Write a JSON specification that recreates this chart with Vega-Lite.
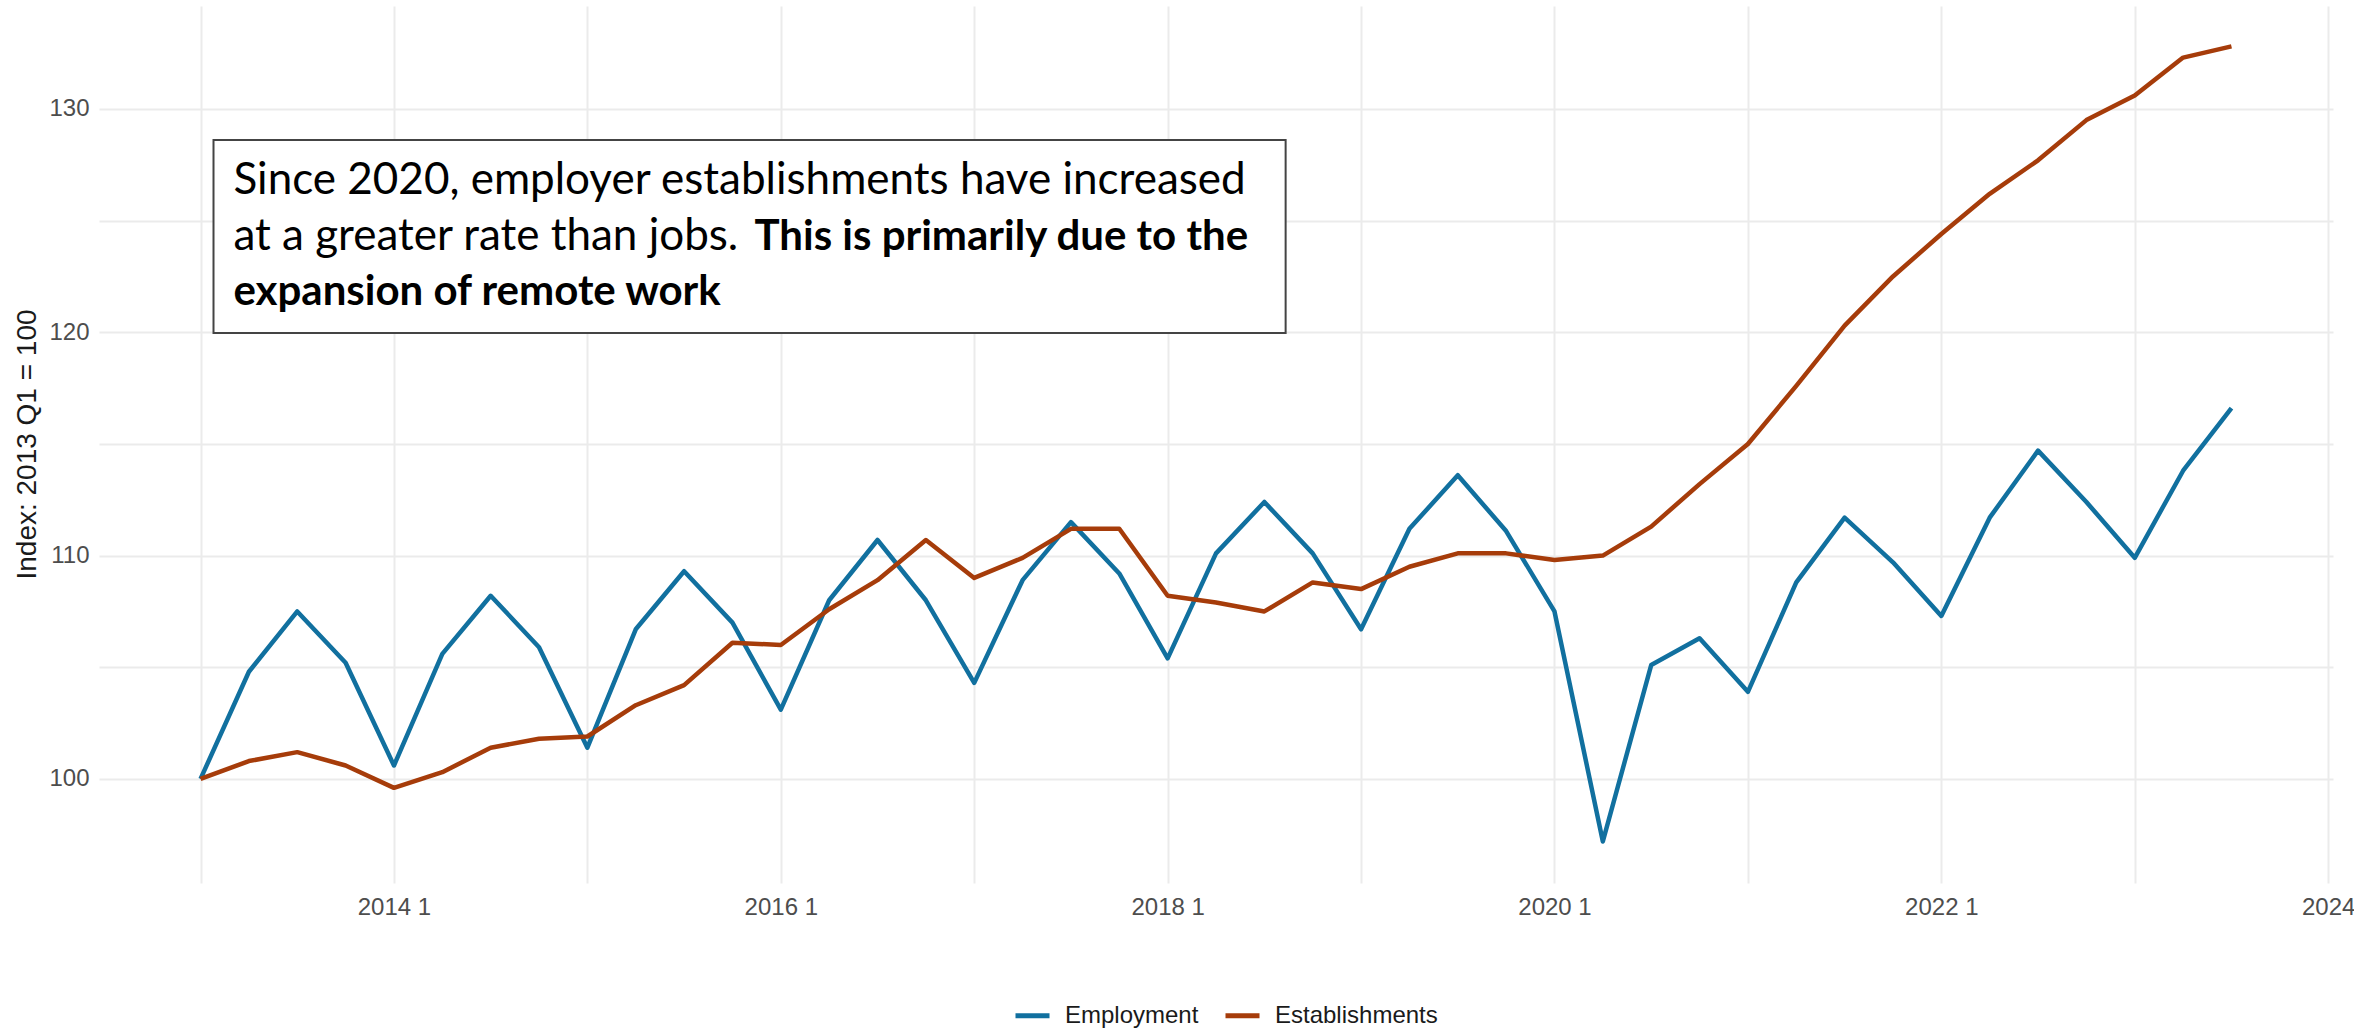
{
  "$schema": "https://vega.github.io/schema/vega-lite/v6.json",
  "width": 2234,
  "height": 877,
  "autosize": {"type": "none"},
  "padding": {"left": 99, "top": 6, "right": 21, "bottom": 145},
  "background": "white",
  "config": {
    "view": {"stroke": null},
    "axis": {
      "domain": false,
      "ticks": false,
      "grid": true,
      "gridColor": "#ebebeb",
      "gridWidth": 2,
      "labelFont": "Liberation Sans",
      "labelFontSize": 24,
      "labelColor": "#4d4d4d",
      "labelOverlap": false,
      "labelFlush": false,
      "titleFont": "Liberation Sans",
      "titleFontWeight": "normal"
    }
  },
  "data": {
    "values": [
      {"t": 2013.00, "series": "Employment", "value": 100.0},
      {"t": 2013.25, "series": "Employment", "value": 104.8},
      {"t": 2013.50, "series": "Employment", "value": 107.5},
      {"t": 2013.75, "series": "Employment", "value": 105.2},
      {"t": 2014.00, "series": "Employment", "value": 100.6},
      {"t": 2014.25, "series": "Employment", "value": 105.6},
      {"t": 2014.50, "series": "Employment", "value": 108.2},
      {"t": 2014.75, "series": "Employment", "value": 105.9},
      {"t": 2015.00, "series": "Employment", "value": 101.4},
      {"t": 2015.25, "series": "Employment", "value": 106.7},
      {"t": 2015.50, "series": "Employment", "value": 109.3},
      {"t": 2015.75, "series": "Employment", "value": 107.0},
      {"t": 2016.00, "series": "Employment", "value": 103.1},
      {"t": 2016.25, "series": "Employment", "value": 108.0},
      {"t": 2016.50, "series": "Employment", "value": 110.7},
      {"t": 2016.75, "series": "Employment", "value": 108.0},
      {"t": 2017.00, "series": "Employment", "value": 104.3},
      {"t": 2017.25, "series": "Employment", "value": 108.9},
      {"t": 2017.50, "series": "Employment", "value": 111.5},
      {"t": 2017.75, "series": "Employment", "value": 109.2},
      {"t": 2018.00, "series": "Employment", "value": 105.4},
      {"t": 2018.25, "series": "Employment", "value": 110.1},
      {"t": 2018.50, "series": "Employment", "value": 112.4},
      {"t": 2018.75, "series": "Employment", "value": 110.1},
      {"t": 2019.00, "series": "Employment", "value": 106.7},
      {"t": 2019.25, "series": "Employment", "value": 111.2},
      {"t": 2019.50, "series": "Employment", "value": 113.6},
      {"t": 2019.75, "series": "Employment", "value": 111.1},
      {"t": 2020.00, "series": "Employment", "value": 107.5},
      {"t": 2020.25, "series": "Employment", "value": 97.2},
      {"t": 2020.50, "series": "Employment", "value": 105.1},
      {"t": 2020.75, "series": "Employment", "value": 106.3},
      {"t": 2021.00, "series": "Employment", "value": 103.9},
      {"t": 2021.25, "series": "Employment", "value": 108.8},
      {"t": 2021.50, "series": "Employment", "value": 111.7},
      {"t": 2021.75, "series": "Employment", "value": 109.7},
      {"t": 2022.00, "series": "Employment", "value": 107.3},
      {"t": 2022.25, "series": "Employment", "value": 111.7},
      {"t": 2022.50, "series": "Employment", "value": 114.7},
      {"t": 2022.75, "series": "Employment", "value": 112.4},
      {"t": 2023.00, "series": "Employment", "value": 109.9},
      {"t": 2023.25, "series": "Employment", "value": 113.8},
      {"t": 2023.50, "series": "Employment", "value": 116.6},
      {"t": 2013.00, "series": "Establishments", "value": 100.0},
      {"t": 2013.25, "series": "Establishments", "value": 100.8},
      {"t": 2013.50, "series": "Establishments", "value": 101.2},
      {"t": 2013.75, "series": "Establishments", "value": 100.6},
      {"t": 2014.00, "series": "Establishments", "value": 99.6},
      {"t": 2014.25, "series": "Establishments", "value": 100.3},
      {"t": 2014.50, "series": "Establishments", "value": 101.4},
      {"t": 2014.75, "series": "Establishments", "value": 101.8},
      {"t": 2015.00, "series": "Establishments", "value": 101.9},
      {"t": 2015.25, "series": "Establishments", "value": 103.3},
      {"t": 2015.50, "series": "Establishments", "value": 104.2},
      {"t": 2015.75, "series": "Establishments", "value": 106.1},
      {"t": 2016.00, "series": "Establishments", "value": 106.0},
      {"t": 2016.25, "series": "Establishments", "value": 107.6},
      {"t": 2016.50, "series": "Establishments", "value": 108.9},
      {"t": 2016.75, "series": "Establishments", "value": 110.7},
      {"t": 2017.00, "series": "Establishments", "value": 109.0},
      {"t": 2017.25, "series": "Establishments", "value": 109.9},
      {"t": 2017.50, "series": "Establishments", "value": 111.2},
      {"t": 2017.75, "series": "Establishments", "value": 111.2},
      {"t": 2018.00, "series": "Establishments", "value": 108.2},
      {"t": 2018.25, "series": "Establishments", "value": 107.9},
      {"t": 2018.50, "series": "Establishments", "value": 107.5},
      {"t": 2018.75, "series": "Establishments", "value": 108.8},
      {"t": 2019.00, "series": "Establishments", "value": 108.5},
      {"t": 2019.25, "series": "Establishments", "value": 109.5},
      {"t": 2019.50, "series": "Establishments", "value": 110.1},
      {"t": 2019.75, "series": "Establishments", "value": 110.1},
      {"t": 2020.00, "series": "Establishments", "value": 109.8},
      {"t": 2020.25, "series": "Establishments", "value": 110.0},
      {"t": 2020.50, "series": "Establishments", "value": 111.3},
      {"t": 2020.75, "series": "Establishments", "value": 113.2},
      {"t": 2021.00, "series": "Establishments", "value": 115.0},
      {"t": 2021.25, "series": "Establishments", "value": 117.6},
      {"t": 2021.50, "series": "Establishments", "value": 120.3},
      {"t": 2021.75, "series": "Establishments", "value": 122.5},
      {"t": 2022.00, "series": "Establishments", "value": 124.4},
      {"t": 2022.25, "series": "Establishments", "value": 126.2},
      {"t": 2022.50, "series": "Establishments", "value": 127.7},
      {"t": 2022.75, "series": "Establishments", "value": 129.5},
      {"t": 2023.00, "series": "Establishments", "value": 130.6},
      {"t": 2023.25, "series": "Establishments", "value": 132.3},
      {"t": 2023.50, "series": "Establishments", "value": 132.8}
    ]
  },
  "layer": [
    {
      "mark": {"type": "line", "strokeWidth": 4.5, "strokeJoin": "round"},
      "encoding": {
        "x": {
          "field": "t",
          "type": "quantitative",
          "scale": {"domain": [2012.475, 2024.025], "nice": false, "zero": false},
          "axis": {
            "title": null,
            "values": [2013, 2014, 2015, 2016, 2017, 2018, 2019, 2020, 2021, 2022, 2023, 2024],
            "labelExpr": "datum.value == 2024 ? '2024' : (datum.value % 2 == 0 ? toString(datum.value) + ' 1' : '')",
            "labelPadding": 12
          }
        },
        "y": {
          "field": "value",
          "type": "quantitative",
          "scale": {"domain": [95.34, 134.61], "nice": false, "zero": false},
          "axis": {
            "title": "Index: 2013 Q1 = 100",
            "values": [100, 105, 110, 115, 120, 125, 130],
            "labelExpr": "datum.value % 10 == 0 ? toString(datum.value) : ''",
            "labelPadding": 10,
            "titleFontSize": 28,
            "titleColor": "#1a1a1a",
            "titleAngle": 270,
            "titleBaseline": "middle",
            "titleAlign": "center",
            "titleX": -72,
            "titleY": 438
          }
        },
        "color": {
          "field": "series",
          "type": "nominal",
          "scale": {"domain": ["Employment", "Establishments"], "range": ["#11709f", "#a63c0a"]},
          "legend": {
            "title": null,
            "orient": "none",
            "direction": "horizontal",
            "legendX": 914,
            "legendY": 990,
            "padding": 0,
            "symbolType": "stroke",
            "symbolSize": 1156,
            "symbolStrokeWidth": 5,
            "labelFont": "Liberation Sans",
            "labelFontSize": 24,
            "labelColor": "#1a1a1a",
            "labelLimit": 0,
            "labelOffset": 13,
            "columnPadding": 16
          }
        }
      }
    },
    {
      "data": {"values": [{}]},
      "mark": {"type": "rect", "fill": "white", "stroke": "#444444", "strokeWidth": 2},
      "encoding": {
        "x": {"datum": 2013.067, "type": "quantitative"},
        "x2": {"datum": 2018.61},
        "y": {"datum": 128.61, "type": "quantitative"},
        "y2": {"datum": 119.97}
      }
    },
    {
      "data": {"values": [{}]},
      "mark": {"type": "text", "text": "Since 2020, employer establishments have increased", "font": "Lato", "fontSize": 44, "color": "black", "align": "left", "baseline": "alphabetic"},
      "encoding": {
        "x": {"datum": 2013.17, "type": "quantitative"},
        "y": {"datum": 126.19, "type": "quantitative"}
      }
    },
    {
      "data": {"values": [{}]},
      "mark": {"type": "text", "text": "at a greater rate than jobs.", "font": "Lato", "fontSize": 44, "color": "black", "align": "left", "baseline": "alphabetic"},
      "encoding": {
        "x": {"datum": 2013.17, "type": "quantitative"},
        "y": {"datum": 123.69, "type": "quantitative"}
      }
    },
    {
      "data": {"values": [{}]},
      "mark": {"type": "text", "text": "This is primarily due to the", "font": "Lato", "fontSize": 42, "fontWeight": "bold", "color": "black", "align": "left", "baseline": "alphabetic"},
      "encoding": {
        "x": {"datum": 2015.864, "type": "quantitative"},
        "y": {"datum": 123.69, "type": "quantitative"}
      }
    },
    {
      "data": {"values": [{}]},
      "mark": {"type": "text", "text": "expansion of remote work", "font": "Lato", "fontSize": 42, "fontWeight": "bold", "color": "black", "align": "left", "baseline": "alphabetic"},
      "encoding": {
        "x": {"datum": 2013.17, "type": "quantitative"},
        "y": {"datum": 121.22, "type": "quantitative"}
      }
    }
  ]
}
